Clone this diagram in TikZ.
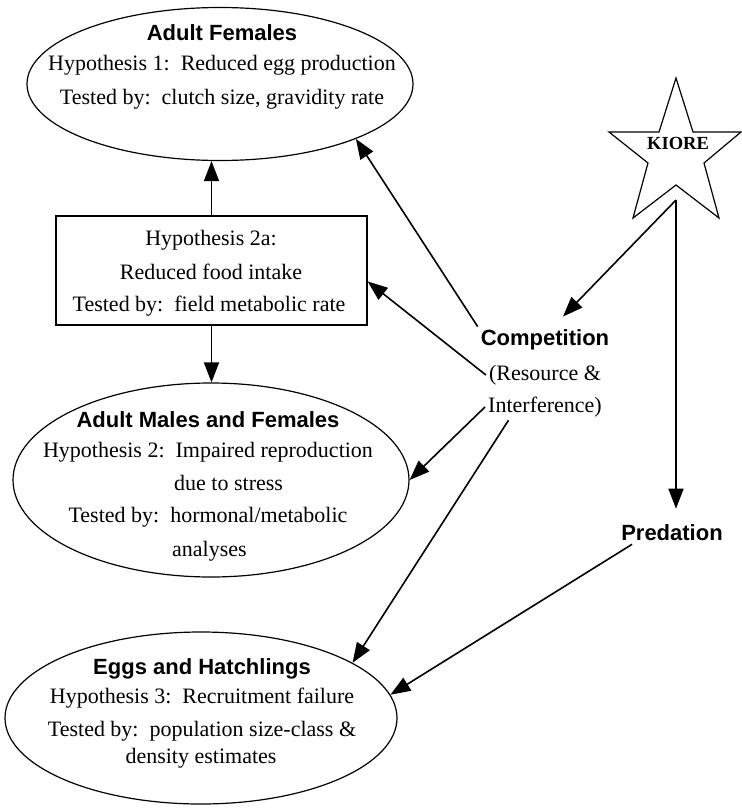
\documentclass[tikz,border=0pt]{standalone}
\usepackage{fontspec}
\setmainfont{Liberation Serif}
\setsansfont{Liberation Sans}
\usetikzlibrary{arrows.meta,shapes.geometric}

\begin{document}
\begin{tikzpicture}[x=1pt,y=-1pt]

  % Definitions
  \tikzstyle{Group} = [ellipse, draw=black, line width=1.2pt, inner sep=0pt]
  \tikzstyle{Title} = [font=\fontsize{22}{26}\selectfont\sffamily\bfseries, inner sep=0pt]
  \tikzstyle{Line} = [font=\fontsize{22}{26}\selectfont, inner sep=0pt]
  \tikzstyle{Box} = [rectangle, draw=black, line width=1.2pt, minimum width=311pt, minimum height=109pt]
  \tikzstyle{arrow} = [line width=1.6pt,->,>={Triangle[length=20pt,width=15pt]}]

  \useasboundingbox (0,0) rectangle (742,809);

  % Adult Females
  \node (AF) [Group, minimum width=386pt, minimum height=153pt] at (220,84) {};
  \node (AFt) [Title] at (222,33) {Adult Females};
  \node (AF1) [Line] at (222,65) {Hypothesis 1:~~Reduced egg production};
  \node (AF2) [Line] at (222,99) {Tested by:~~clutch size, gravidity rate};

  % Hypothesis 2a
  \node (H2a) [Box] at (211.5,270.5) {};
  \node (H2a1) [Line] at (211,240) {Hypothesis 2a:};
  \node (H2a2) [Line] at (211,272) {Reduced food intake};
  \node (H2a3) [Line] at (209,306) {Tested by:~~field metabolic rate};

  % Adult Males and Females
  \node (AM) [Group, minimum width=396pt, minimum height=194pt] at (211,480) {};
  \node (AMt) [Title] at (208,420) {Adult Males and Females};
  \node (AM1) [Line] at (208,452) {Hypothesis 2:~~Impaired reproduction};
  \node (AM2) [Line, anchor=west] at (174,483) {due to stress};
  \node (AM3) [Line] at (208,517) {Tested by:~~hormonal/metabolic};
  \node (AM4) [Line, anchor=west] at (172,551) {analyses};

  % Eggs and Hatchlings
  \node (EH) [Group, minimum width=392pt, minimum height=172pt] at (201,718) {};
  \node (EHt) [Title] at (202,669) {Eggs and Hatchlings};
  \node (EH1) [Line] at (202,698) {Hypothesis 3:~~Recruitment failure};
  \node (EH2) [Line] at (202,731) {Tested by:~~population size-class \&};
  \node (EH3) [Line] at (201,758) {density estimates};

  % Competition and Predation
  \node (Comp) [Title, inner sep=3pt] at (545,340) {Competition};
  \node (Res) [Line, inner sep=3pt] at (545,375) {(Resource \&};
  \node (Intf) [Line, inner sep=3pt] at (545,407) {Interference)};
  \node (Pred) [Title, inner sep=3pt] at (672,533) {Predation};

  % Kiore
  \draw [line width=1.2pt] (676,78) -- (693,132) -- (741,132) -- (704,163) -- (719,218)
    -- (676,185) -- (633,218) -- (648,163) -- (609,132) -- (659,132) -- cycle;
  \node (Kiore) [font=\fontsize{18.5}{22}\selectfont\bfseries, inner sep=0pt] at (678,143) {KIORE};
  \coordinate (Kbase) at (676,200);

  \draw [arrow] (H2a.north) -- (H2a.north |- AF.south);
  \draw [arrow] (H2a.south) -- (H2a.south |- AM.north);
  \draw [arrow] (Comp.north west) -- (AF.-22);
  \draw [arrow] (Res.west) -- (H2a.-4);
  \draw [arrow] (Intf.west) -- (AM.east);
  \draw [arrow] (Intf.-160) -- (EH.20);
  \draw [arrow] (Kbase) -- ([xshift=18pt,yshift=10pt]Comp.north);
  \draw [arrow] (Kbase) -- ([yshift=13pt]Pred.north -| Kbase);
  \draw [arrow] ([xshift=14pt]Pred.south west) -- (EH.7);

\end{tikzpicture}
\end{document}
